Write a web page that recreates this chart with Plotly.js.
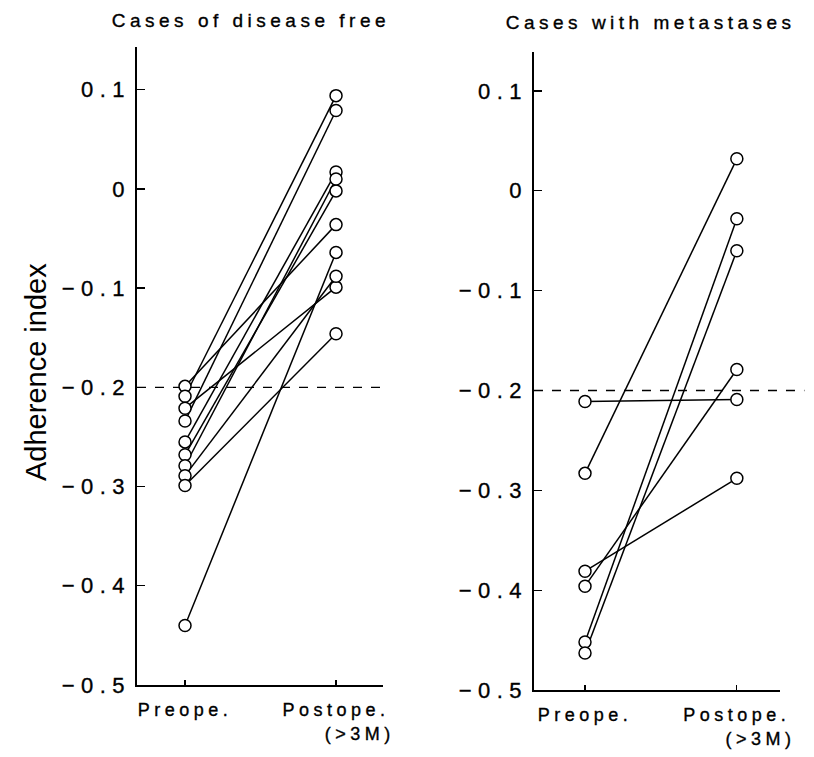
<!DOCTYPE html>
<html>
<head>
<meta charset="utf-8">
<script src="https://cdn.plot.ly/plotly-3.0.1.min.js"></script>
<style>
  body { margin: 0; background: #fff; }
  .xtick text, .x2tick text { letter-spacing: 4.5px; stroke: #000; stroke-width: 0.35px; }
  .ytick text, .y2tick text { letter-spacing: 6.5px; stroke: #000; stroke-width: 0.35px; }
  .annotation-text.spaced { letter-spacing: 4.5px; stroke: #000; stroke-width: 0.35px; }
</style>
</head>
<body>
<div id="chart" style="width:814px;height:757px;"></div>
<script>
// ---- data ----
const categories = ["Preope.", "Postope."];
const categoryNote = ["", "(>3M)"];
const panelTitles = ["Cases of disease free", "Cases with metastases"];
const yAxisTitle = "Adherence index";
const yTickVals = [-0.5, -0.4, -0.3, -0.2, -0.1, 0, 0.1];
const yTickText = ["\u22120.5", "\u22120.4", "\u22120.3", "\u22120.2", "\u22120.1", "0", "0.1"];
const referenceLevel = -0.2;

// Cases of disease free: paired preoperative / postoperative values
const freePre  = [-0.199, -0.209, -0.221, -0.234, -0.255, -0.268, -0.279, -0.289, -0.299, -0.440];
const freePost = [-0.036,  0.094, -0.099,  0.079,  0.017, -0.002,  0.010, -0.088, -0.146, -0.064];

// Cases with metastases
const metPre  = [-0.211, -0.283, -0.381, -0.396, -0.452, -0.463];
const metPost = [-0.209,  0.032, -0.288, -0.179, -0.028, -0.060];

// ---- traces ----
const lineStyle = {color: "#000", width: 1.5};
const markerStyle = {symbol: "circle", size: 12, color: "#fff", line: {color: "#000", width: 1.5}};
const traces = [];

function addPanel(pre, post, xa, ya) {
  for (let i = 0; i < pre.length; i++) {
    traces.push({x: [0, 1], y: [pre[i], post[i]], xaxis: xa, yaxis: ya,
      mode: "lines", line: lineStyle, hoverinfo: "skip"});
  }
  const xs = [], ys = [];
  for (let i = 0; i < pre.length; i++) { xs.push(0, 1); ys.push(pre[i], post[i]); }
  traces.push({x: xs, y: ys, xaxis: xa, yaxis: ya, mode: "markers", marker: markerStyle});
}
addPanel(freePre, freePost, "x", "y");
addPanel(metPre, metPost, "x2", "y2");

const tickText = categories.map((c, i) => categoryNote[i] ?
  c + "<br>\u00a0\u00a0\u00a0\u00a0\u00a0" + categoryNote[i] : c);

const fontFam = "Liberation Sans, Arial, sans-serif";
const xBase = {
  tickvals: [0, 1], ticktext: tickText, ticks: "inside", ticklen: 5, tickwidth: 1.3,
  tickcolor: "#000", showline: true, linecolor: "#000", linewidth: 1.5,
  showgrid: false, zeroline: false, tickfont: {family: fontFam, size: 18, color: "#000"},
  ticklabelstandoff: 8, fixedrange: true
};
const yBase = {
  tickvals: yTickVals, ticktext: yTickText, ticks: "inside", ticklen: 8, tickwidth: 1.3,
  tickcolor: "#000", showline: true, linecolor: "#000", linewidth: 1.5,
  showgrid: false, zeroline: false, tickfont: {family: fontFam, size: 22, color: "#000"},
  ticklabelstandoff: 0, fixedrange: true
};

const titleFont = {family: fontFam, size: 19, color: "#000"};
const layout = {
  width: 814, height: 757,
  margin: {l: 0, r: 0, t: 0, b: 0},
  paper_bgcolor: "#fff", plot_bgcolor: "#fff",
  showlegend: false,
  xaxis: Object.assign({}, xBase, {domain: [0.1683, 0.4705], range: [-0.318, 1.311], anchor: "y"}),
  yaxis: Object.assign({}, yBase, {domain: [0.0951, 0.9379], range: [-0.5, 0.143], anchor: "x"}),
  xaxis2: Object.assign({}, xBase, {domain: [0.656, 0.958], range: [-0.336, 1.283], anchor: "y2"}),
  yaxis2: Object.assign({}, yBase, {domain: [0.0885, 0.9313], range: [-0.5, 0.139], anchor: "x2"}),
  shapes: [
    {type: "line", xref: "x domain", yref: "y", x0: 0, x1: 1.02, y0: referenceLevel, y1: referenceLevel,
     line: {color: "#000", width: 1.3, dash: "dash"}, layer: "below"},
    {type: "line", xref: "x2 domain", yref: "y2", x0: 0, x1: 1.1, y0: referenceLevel, y1: referenceLevel,
     line: {color: "#000", width: 1.3, dash: "dash"}, layer: "below"}
  ],
  annotations: [
    {text: panelTitles[0], xref: "paper", yref: "paper", x: 251 / 814, y: 1 - 20 / 757,
     showarrow: false, xanchor: "center", yanchor: "middle", font: titleFont},
    {text: panelTitles[1], xref: "paper", yref: "paper", x: 650 / 814, y: 1 - 22 / 757,
     showarrow: false, xanchor: "center", yanchor: "middle", font: titleFont},
    {text: yAxisTitle, xref: "paper", yref: "paper", x: 36 / 814, y: 1 - 372 / 757,
     textangle: -90, showarrow: false, xanchor: "center", yanchor: "middle",
     font: {family: fontFam, size: 29, color: "#000"}}
  ]
};

Plotly.newPlot("chart", traces, layout, {staticPlot: true, displayModeBar: false}).then(() => {
  document.querySelectorAll(".annotation-text").forEach((t) => {
    if (t.textContent !== yAxisTitle) t.classList.add("spaced");
  });
});
</script>
</body>
</html>
